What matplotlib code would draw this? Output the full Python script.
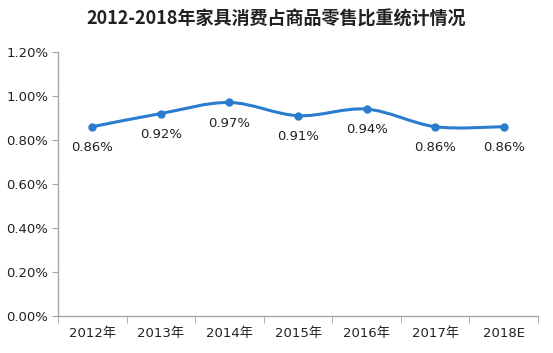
# _*_coding:utf-8_*_

import numpy as np
import matplotlib
matplotlib.use('Agg')
import matplotlib.pyplot as plt
from matplotlib.path import Path
from matplotlib.patches import PathPatch
from matplotlib.ticker import FuncFormatter

plt.rcParams['font.family'] = ['DejaVu Sans', 'Noto Sans CJK SC']

# 数据
years = ['2012年', '2013年', '2014年', '2015年', '2016年', '2017年', '2018E']
ratio = [0.86, 0.92, 0.97, 0.91, 0.94, 0.86, 0.86]
labels = ['0.86%', '0.92%', '0.97%', '0.91%', '0.94%', '0.86%', '0.86%']

line_color = '#2a7ccf'
axis_color = '#a6a6a6'

fig = plt.figure(figsize=(5.53, 3.53), dpi=100)
ax = fig.add_axes([0.105, 0.105, 0.868, 0.748])

x = np.arange(len(years))
y = np.array(ratio)

# 平滑曲线 (Catmull-Rom -> Bezier)
verts = [(x[0], y[0])]
codes = [Path.MOVETO]
n = len(x)
for i in range(n - 1):
    p0 = np.array([x[max(i - 1, 0)], y[max(i - 1, 0)]])
    p1 = np.array([x[i], y[i]])
    p2 = np.array([x[i + 1], y[i + 1]])
    p3 = np.array([x[min(i + 2, n - 1)], y[min(i + 2, n - 1)]])
    c1 = p1 + (p2 - p0) / 6
    c2 = p2 - (p3 - p1) / 6
    verts += [tuple(c1), tuple(c2), tuple(p2)]
    codes += [Path.CURVE4] * 3
ax.add_patch(PathPatch(Path(verts, codes), facecolor='none', edgecolor=line_color,
                       lw=2.2, capstyle='round', joinstyle='round', zorder=3))
ax.plot(x, y, 'o', color=line_color, ms=5, zorder=4)

for xi, yi, lb in zip(x, y, labels):
    ax.annotate(lb, (xi, yi), xytext=(0, -15), textcoords='offset points',
                ha='center', va='center', fontsize=9.5, color='#222222')

ax.set_xlim(-0.5, len(years) - 0.5)
ax.set_ylim(0, 1.2)
ax.set_yticks(np.arange(0, 1.21, 0.2))
ax.yaxis.set_major_formatter(FuncFormatter(lambda v, p: '%.2f%%' % v))
ax.set_xticks(x)
ax.set_xticklabels(years)
ax.set_xticks(np.arange(-0.5, len(years), 1), minor=True)
ax.tick_params(axis='x', which='major', length=0, pad=8, labelsize=9.5, colors='#222222')
ax.tick_params(axis='x', which='minor', length=5, direction='out', color=axis_color)
ax.tick_params(axis='y', length=4, direction='out', color=axis_color, labelsize=9.5,
               labelcolor='#222222', pad=3)

for s in ['top', 'right']:
    ax.spines[s].set_visible(False)
for s in ['left', 'bottom']:
    ax.spines[s].set_color(axis_color)
    ax.spines[s].set_linewidth(1)

fig.text(0.5, 0.945, '2012-2018年家具消费占商品零售比重统计情况', ha='center', va='center',
         fontsize=13, fontweight='bold', color='#222222', family=['Noto Sans CJK SC'])

fig.savefig('out.png', dpi=100, facecolor='white')
